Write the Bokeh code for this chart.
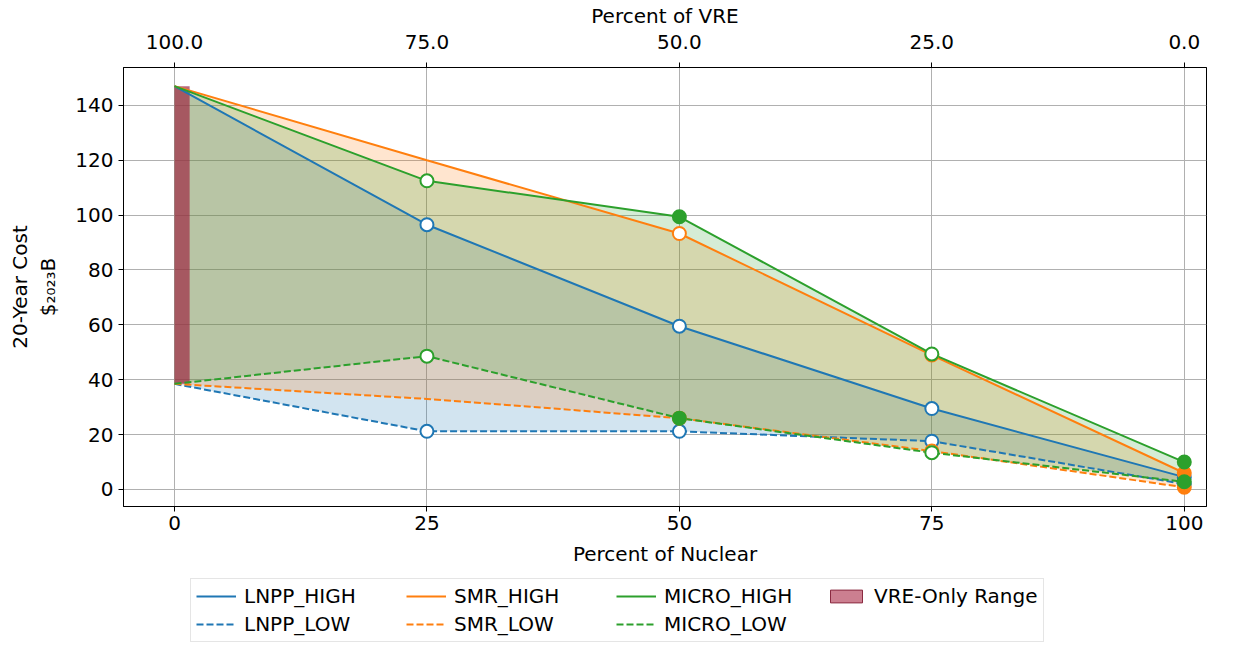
from bokeh.plotting import figure
from bokeh.layouts import column
from bokeh.models import (ColumnDataSource, LinearAxis, FixedTicker, Range1d,
                          Legend, LegendItem)
from bokeh.embed import file_html
from bokeh.resources import INLINE

# Nuclear share of the portfolio (bottom axis) and the matching VRE share (top axis)
pct_nuclear = [0, 25, 50, 75, 100]
pct_vre_labels = ["100.0", "75.0", "50.0", "25.0", "0.0"]

# 20-year cost, $2023 billions
lnpp_high = [147.0, 96.5, 59.5, 29.5, 4.5]
lnpp_low = [38.5, 21.2, 21.2, 17.6, 2.0]
smr_high = [147.0, 120.0, 93.3, 49.0, 6.0]
smr_low = [38.5, 33.0, 26.0, 14.0, 0.8]
micro_high = [147.0, 112.5, 99.4, 49.4, 10.0]
micro_low = [38.5, 48.6, 26.0, 13.4, 2.8]

# VRE-only cost range (0 % nuclear)
vre_only_low = 38.5
vre_only_high = 147.0
vre_bar_width = 1.5

# which points carry hollow / solid markers, by index into pct_nuclear
hollow_idx = {"LNPP": [1, 2, 3], "SMR": [2, 3], "MICRO": [1, 3]}
solid_idx = {"LNPP": [4], "SMR": [4], "MICRO": [2, 4]}

techs = [
    ("LNPP", lnpp_high, lnpp_low, "#1f77b4"),
    ("SMR", smr_high, smr_low, "#ff7f0e"),
    ("MICRO", micro_high, micro_low, "#2ca02c"),
]

FONT = "DejaVu Sans"
FS = "20px"
VRE_COLOR = "#9e2a45"
DASH = "7 3"

p = figure(width=1236, height=570, output_backend="svg", toolbar_location=None,
           x_range=Range1d(-5.05, 102.2), y_range=Range1d(-6.2, 153.8),
           min_border_left=123, min_border_right=30, min_border_top=65,
           min_border_bottom=64, x_axis_label="Percent of Nuclear",
           y_axis_label="20-Year Cost\n$\u2082\u2080\u2082\u2083B")
p.outline_line_color = "black"
p.outline_line_width = 1
p.outline_line_alpha = 1
p.background_fill_color = "white"
p.border_fill_color = "white"

# top axis: share of VRE
top = LinearAxis(axis_label="Percent of VRE")
p.add_layout(top, "above")

for ax in list(p.xaxis) + list(p.yaxis):
    ax.axis_label_text_font = FONT
    ax.axis_label_text_font_style = "normal"
    ax.axis_label_text_font_size = FS
    ax.axis_label_text_color = "black"
    ax.major_label_text_font = FONT
    ax.major_label_text_font_size = FS
    ax.major_label_text_color = "black"
    ax.axis_line_color = "black"
    ax.major_tick_line_color = "black"
    ax.major_tick_out = 5
    ax.major_tick_in = 0
    ax.minor_tick_line_color = None
    ax.axis_label_standoff = 4
    ax.major_label_standoff = 5

for ax in p.xaxis:
    ax.ticker = FixedTicker(ticks=pct_nuclear)
top.major_label_overrides = {x: lab for x, lab in zip(pct_nuclear, pct_vre_labels)}
top.major_label_standoff = 14
bottom = p.below[0]
bottom.major_label_standoff = 4
bottom.axis_label_standoff = 9
p.yaxis.ticker = FixedTicker(ticks=[0, 20, 40, 60, 80, 100, 120, 140])
p.yaxis.axis_label_standoff = 12

p.xgrid.grid_line_color = "#b0b0b0"
p.ygrid.grid_line_color = "#b0b0b0"
p.xgrid.grid_line_width = 1
p.ygrid.grid_line_width = 1

# shaded band between each technology's high and low cost
for name, hi, lo, col in techs:
    src = ColumnDataSource(dict(x=pct_nuclear, hi=hi, lo=lo))
    p.varea(x="x", y1="lo", y2="hi", source=src, fill_color=col, fill_alpha=0.2)

# VRE-only range bar at 0 % nuclear
p.quad(left=[0], right=[vre_bar_width], bottom=[vre_only_low], top=[vre_only_high],
       fill_color=VRE_COLOR, fill_alpha=0.7, line_color=None)

for name, hi, lo, col in techs:
    p.line(pct_nuclear, hi, line_color=col, line_width=2)
    p.line(pct_nuclear, lo, line_color=col, line_width=2, line_dash=DASH)

for name, hi, lo, col in techs:
    for series in (hi, lo):
        hx = [pct_nuclear[i] for i in hollow_idx[name]]
        hy = [series[i] for i in hollow_idx[name]]
        p.scatter(hx, hy, size=13, fill_color="white", line_color=col, line_width=2)
        sx = [pct_nuclear[i] for i in solid_idx[name]]
        sy = [series[i] for i in solid_idx[name]]
        p.scatter(sx, sy, size=13, fill_color=col, line_color=col, line_width=2)

# legend strip below the chart (its swatch glyphs sit outside the strip's own ranges)
lg = figure(width=1236, height=77, output_backend="svg", toolbar_location=None,
            x_range=Range1d(0, 1), y_range=Range1d(0, 1), min_border=0)
lg.axis.visible = False
lg.grid.visible = False
lg.outline_line_color = None
lg.background_fill_color = "white"
lg.border_fill_color = "white"

off_x = [5, 6]
off_y = [5, 5]
entries = {}
for name, hi, lo, col in techs:
    entries[name + "_HIGH"] = lg.line(off_x, off_y, line_color=col, line_width=2)
    entries[name + "_LOW"] = lg.line(off_x, off_y, line_color=col, line_width=2,
                                     line_dash=DASH)
entries["VRE-Only Range"] = lg.quad(left=[5], right=[6], bottom=[5], top=[6],
                                    fill_color="#b03a55", fill_alpha=0.65,
                                    line_color="#8a2a40", line_width=1)

order = ["LNPP_HIGH", "SMR_HIGH", "MICRO_HIGH", "VRE-Only Range",
         "LNPP_LOW", "SMR_LOW", "MICRO_LOW"]
items = [LegendItem(label=k, renderers=[entries[k]]) for k in order]
legend = Legend(items=items, orientation="horizontal", ncols=4,
                location=(67, 5), label_text_font=FONT, label_text_color="black",
                label_text_font_size=FS, glyph_width=40, glyph_height=16,
                label_standoff=8, label_width=158, spacing=4, padding=5, margin=0,
                border_line_color="#cccccc", border_line_width=1,
                background_fill_color="white", background_fill_alpha=1)
lg.add_layout(legend, "center")

open("out.html", "w").write(file_html(column(p, lg, spacing=0), INLINE))
